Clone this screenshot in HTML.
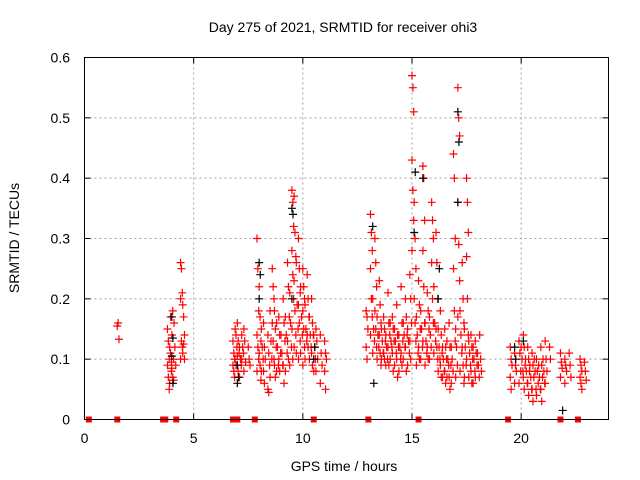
<!DOCTYPE html>
<html><head><meta charset="utf-8"><style>
body{margin:0;background:#fff}
svg{display:block;font-family:"Liberation Sans",sans-serif}
</style></head><body>
<svg id="chart" width="640" height="480" viewBox="0 0 640 480">
<text x="343" y="32" font-size="14" text-anchor="middle" fill="#000">Day 275 of 2021, SRMTID for receiver ohi3</text>
<text transform="translate(19,238) rotate(-90)" font-size="14" text-anchor="middle">SRMTID / TECUs</text>
<text x="344" y="471" font-size="14" text-anchor="middle">GPS time / hours</text>
<g id="grid"></g>
<g id="ticks"></g>
<g id="red"></g>
<g id="black"></g>
<g id="squares"></g>
<rect x="84.5" y="57.5" width="524" height="362" fill="none" stroke="#000" stroke-width="1"/>
</svg>
<script>
const xTicks=[0,5,10,15,20];
const yTicks=[0,0.1,0.2,0.3,0.4,0.5,0.6];
const yTickLabels=["0","0.1","0.2","0.3","0.4","0.5","0.6"];
const redHours=[1.5,3.8,3.9,4.0,4.1,4.4,4.5,6.8,6.9,7.0,7.1,7.2,7.3,7.5,7.9,8.0,8.2,8.4,8.6,8.7,8.9,9.1,9.3,9.5,9.6,9.8,10.0,10.2,10.4,10.6,10.8,11.0,12.9,13.1,13.3,13.5,13.7,13.9,14.1,14.3,14.5,14.7,14.9,15.0,15.1,15.3,15.5,15.7,15.9,16.1,16.3,16.5,16.7,16.9,17.1,17.3,17.5,17.7,17.9,18.1,19.5,19.7,19.9,20.1,20.3,20.5,20.7,20.9,21.1,21.3,21.8,22.0,22.2,22.7,22.9,
 8.1,8.5,8.8,9.0,9.2,9.4,9.7,9.9,10.1,10.3,10.5,13.2,13.4,13.6,13.8,14.0,14.2,14.4,14.6,14.8,15.2,15.4,15.6,15.8,16.0,16.2,16.4,16.6,16.8,17.0,17.2,17.4,17.6,17.8,18.0,20.0,20.2,20.4,20.6,20.8,21.0];
const redValues=[[.155,.16,.133],[.15,.13,.1,.09,.07,.05],[.12,.17,.08,.06,.11,.095],[.14,.18,.1,.085,.07,.065],[.16,.12,.09],[.26,.25,.21,.2,.13,.12,.1],[.19,.17,.14,.11,.125,.1],[.13,.11,.1,.09,.08,.07],[.15,.14,.12,.1,.09],[.16,.13,.11,.105,.08],[.12,.1,.09,.07],[.14,.12,.11,.1],[.15,.13,.095,.08],[.12,.1,.09],[.3,.25,.18,.14,.12,.1,.08],[.22,.17,.13,.11,.09,.065],[.16,.12,.1,.08,.06],[.14,.11,.09,.05,.045],[.25,.22,.2,.16,.13,.1],[.18,.15,.12,.09,.07],[.17,.14,.11,.1,.08],[.2,.16,.13,.09,.06],[.26,.22,.17,.13,.1],[.38,.36,.32,.28,.24,.2,.15,.1],[.37,.31,.27,.23,.18,.14,.12],[.3,.25,.21,.19,.16,.13,.1],[.25,.22,.2,.18,.15,.12,.09],[.24,.2,.17,.14,.12],[.2,.16,.14,.11,.09],[.15,.13,.1,.08],[.14,.11,.09,.06],[.13,.11,.1,.08,.05],[.18,.17,.15,.12,.1],[.34,.31,.28,.25,.2,.17,.14],[.3,.26,.22,.18,.15,.12],[.23,.19,.16,.14,.11,.09],[.17,.15,.13,.11,.1],[.21,.16,.14,.12,.09],[.17,.15,.13,.11,.08],[.19,.14,.12,.1,.07],[.22,.16,.13,.11,.09],[.2,.17,.14,.12,.08],[.24,.2,.16,.13,.1],[.57,.55,.51,.43,.38,.33,.28],[.36,.3,.25,.2,.16,.13],[.23,.19,.15,.12,.1],[.42,.4,.33,.28,.22,.16,.13],[.21,.18,.15,.12,.1],[.36,.33,.3,.26,.2,.16],[.31,.26,.2,.15,.12,.1],[.18,.14,.11,.09,.07],[.15,.12,.1,.08,.06],[.16,.12,.09,.07,.05],[.44,.4,.3,.25,.18,.13],[.55,.5,.47,.36,.29,.23,.17],[.26,.2,.16,.12,.09,.06],[.4,.36,.31,.27,.2,.14,.1],[.14,.12,.1,.08,.06],[.13,.11,.09,.07],[.14,.1,.08],[.12,.1,.09,.07,.05],[.11,.09,.08,.06],[.13,.11,.08,.06],[.14,.12,.09,.07,.05],[.12,.1,.08,.06,.04],[.11,.09,.07,.05,.03],[.1,.08,.06,.04],[.12,.09,.07,.05,.03],[.13,.1,.08,.06],[.12,.1],[.11,.095,.085,.07],[.1,.09,.08,.06],[.11,.09,.07],[.1,.09,.08,.07,.06,.05],[.095,.08,.065],
 [.15,.12,.1,.08],[.18,.13,.1,.07],[.16,.12,.09,.08],[.14,.11,.09],[.17,.14,.11,.08],[.21,.16,.12,.09],[.26,.19,.15,.11],[.22,.17,.14,.11],[.19,.15,.13,.1],[.17,.14,.12,.1],[.14,.12,.1,.08],[.2,.15,.13,.11],[.17,.14,.12,.1],[.15,.13,.11,.1],[.14,.12,.1,.09],[.16,.13,.12,.1],[.15,.13,.11,.09],[.14,.12,.1,.08],[.16,.14,.12,.1],[.15,.13,.11,.09],[.17,.14,.11,.09],[.18,.15,.12,.1],[.16,.13,.11,.09],[.17,.14,.12,.1],[.22,.16,.13,.11],[.15,.12,.1,.08],[.12,.1,.08,.07],[.13,.1,.09,.07],[.12,.1,.08,.06],[.15,.12,.09,.07],[.18,.14,.11,.08],[.15,.12,.09,.07],[.13,.11,.09,.07],[.12,.1,.08,.06],[.11,.09,.07],[.12,.1,.08],[.1,.08,.06],[.09,.07,.05],[.1,.08,.05],[.09,.07,.05],[.1,.08,.06]];
const blackHours=[4.0,7.0,8.0,9.5,10.5,13.2,15.1,15.5,16.2,17.1,19.7,20.1,21.9];
const blackValues=[[.17,.135,.105,.06],[.09,.07,.06],[.26,.24,.2],[.35,.34,.2],[.1,.12],[.32,.06],[.31,.41],[.4],[.2,.25],[.51,.46,.36],[.12,.1],[.13],[.015]];
const zeroHours=[0.2,1.5,3.6,3.7,4.2,6.8,7.0,7.8,10.5,13.0,15.3,19.4,21.8,22.6];
const NS='http://www.w3.org/2000/svg';
function xs(h){return 84.5+h*(524/24);}
function ys(v){return 419.5-v*(362/0.6);}
function mk(t,a){const e=document.createElementNS(NS,t);for(const k in a)e.setAttribute(k,a[k]);return e;}
const grid=document.getElementById('grid'),ticks=document.getElementById('ticks');
xTicks.forEach(t=>{const x=xs(t);
 if(t>0){const l=mk('line',{x1:x,y1:57.5,x2:x,y2:419.5,stroke:'#a0a0a0','stroke-dasharray':'2,3'});grid.appendChild(l);}
 const tl=mk('line',{x1:x,y1:419.5,x2:x,y2:413.5,stroke:'#000'});ticks.appendChild(tl);
 const tt=mk('line',{x1:x,y1:57.5,x2:x,y2:63.5,stroke:'#000'});ticks.appendChild(tt);
 const tx=mk('text',{x:x,y:443,'font-size':14,'text-anchor':'middle'});tx.textContent=String(t);ticks.appendChild(tx);});
yTicks.forEach((t,i)=>{const y=ys(t);
 if(t>0&&t<0.6){const l=mk('line',{x1:84.5,y1:y,x2:608.5,y2:y,stroke:'#a0a0a0','stroke-dasharray':'2,3'});grid.appendChild(l);}
 const tl=mk('line',{x1:84.5,y1:y,x2:90.5,y2:y,stroke:'#000'});ticks.appendChild(tl);
 const tr=mk('line',{x1:608.5,y1:y,x2:602.5,y2:y,stroke:'#000'});ticks.appendChild(tr);
 const tx=mk('text',{x:70,y:y+5,'font-size':14,'text-anchor':'end'});tx.textContent=yTickLabels[i];ticks.appendChild(tx);});
function plus(g,h,v,c){const x=xs(h),y=ys(v);
 const p=mk('path',{d:`M${x-4},${y}H${x+4}M${x},${y-4}V${y+4}`,stroke:c,'stroke-width':1.2,fill:'none'});
 
 
 g.appendChild(p);}
const red=document.getElementById('red'),black=document.getElementById('black');
blackHours.forEach((h,i)=>blackValues[i].forEach((v,k)=>plus(black,h+(k%2)*0.05,v,'#000000')));
redHours.forEach((h,i)=>redValues[i].forEach((v,k)=>plus(red,h+(k%3)*0.04,v,'#ff0000')));
const sq=document.getElementById('squares');
zeroHours.forEach(h=>{const r=mk('rect',{x:xs(h)-3,y:ys(0)-3,width:6,height:6,fill:'#ff0000'});
 
 
 sq.appendChild(r);});
</script>
</body></html>
